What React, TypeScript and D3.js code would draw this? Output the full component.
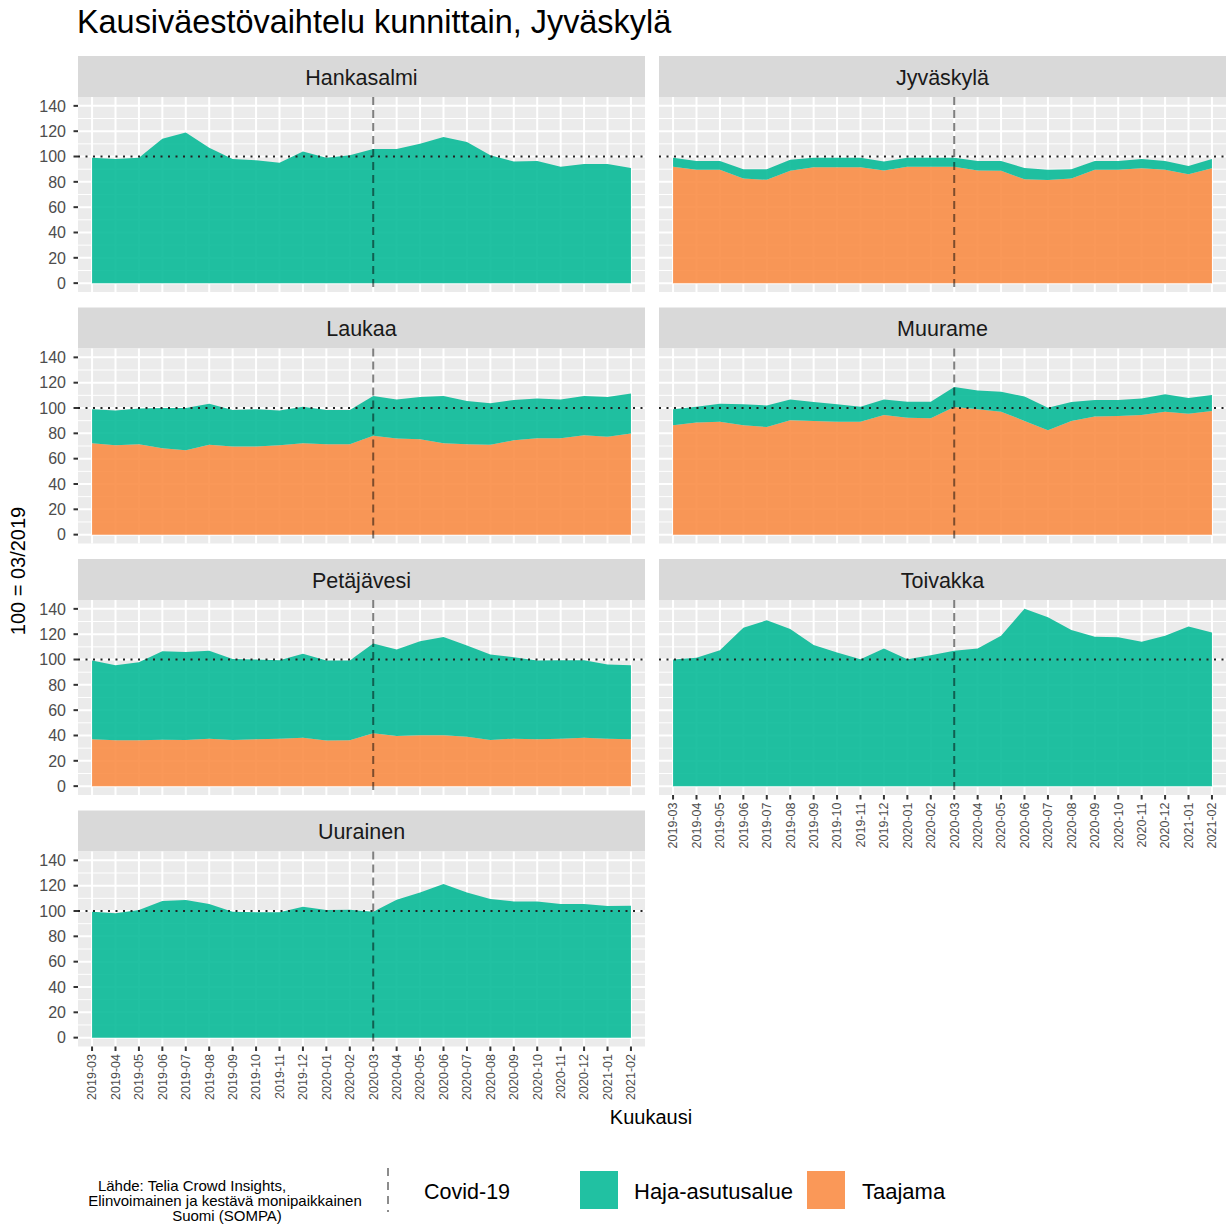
import React from "react";
import * as d3 from "d3";

const months = [
  "2019-03","2019-04","2019-05","2019-06","2019-07","2019-08","2019-09","2019-10","2019-11","2019-12",
  "2020-01","2020-02","2020-03","2020-04","2020-05","2020-06","2020-07","2020-08","2020-09","2020-10",
  "2020-11","2020-12","2021-01","2021-02",
];
const covidMonth = "2020-03";
const referenceLevel = 100;
const yTicks = [0, 20, 40, 60, 80, 100, 120, 140];
const yMinor = [10, 30, 50, 70, 90, 110, 130];
const seriesNames = ["Haja-asutusalue", "Taajama"];
const municipalities = ["Hankasalmi", "Jyväskylä", "Laukaa", "Muurame", "Petäjävesi", "Toivakka", "Uurainen"];

// Haja-asutusalue (rural) values
const hajaHankasalmi = [99,98,99,114,119,107,98,97,95,104,99,101,106,106,110,115.5,111.5,101,96,96.5,92,94,94,91];
const hajaJyvaskyla = [7,7,7,7.3,8.4,8.7,7.4,7.4,7.4,7,7,7,7,7.5,7.8,9,8.1,7.3,7,7,7.2,7,6.6,7.2];
const hajaLaukaa = [26.8,27.4,28.3,31.8,33.3,32.5,28.8,29.4,27.4,28.8,27,27,31.4,30.9,33.4,37.2,34.1,32.8,31.8,31.5,30.7,30.9,31.3,31.7];
const hajaMuurame = [12.6,12.5,14.2,16.5,17,16.5,14.9,13.7,11.8,12.3,12.6,13.1,15.7,14.9,15.8,19.2,17.9,14.9,13.1,12.6,13.1,13.7,12.5,12.6];
const hajaPetajavesi = [62.2,59.3,61.7,69.9,69.5,69.5,64,63,62,66.2,63.2,63,70.9,68.3,74.2,77.6,71.9,67.5,64.3,62.2,62,61.2,58.5,58.5];
const hajaToivakka = [100,101.3,107.4,125,131,124,111.4,105.6,100.3,108.7,100.3,103.4,106.9,108.7,118.8,140,133.3,123.3,118,117.5,114,118.8,126,121.4];
const hajaUurainen = [99.5,98.2,100.8,108,108.7,105.5,99.5,99,99,103.4,100.8,101,99.5,108.9,114.7,121.3,114.7,109.4,107.6,107.6,105.5,105.5,104,104.2];

// Taajama (urban) values
const taajamaJyvaskyla = [92,89.5,89.5,82.7,81.6,88.7,91.6,91.6,91.6,89,92,92,92,89,88.7,82,81.4,82.7,89.5,89.5,90.8,89.5,86,90.8];
const taajamaLaukaa = [72.2,70.6,71.4,68.2,66.7,70.9,69.6,69.6,70.6,72.2,71.4,71.4,78,75.9,75.3,72.2,71.4,70.9,74.5,76.1,76.1,78.5,77.4,79.8];
const taajamaMuurame = [86.4,88.5,89.2,86.4,85,90.3,89.8,89.2,89.2,94.5,92.4,91.9,100.8,99,97.1,89.8,82.4,89.8,93.2,93.7,94.5,97.1,95.5,97.6];
const taajamaPetajavesi = [37,36.2,36.2,36.7,36.5,37.5,36.5,37,37.5,38.3,36,36.2,41.7,39.6,40.2,40.2,39.1,36.5,37.5,37,37.5,38.3,37.5,37];

const hajaByMunicipality: Record<string, number[]> = {
  "Hankasalmi": hajaHankasalmi,
  "Jyväskylä": hajaJyvaskyla,
  "Laukaa": hajaLaukaa,
  "Muurame": hajaMuurame,
  "Petäjävesi": hajaPetajavesi,
  "Toivakka": hajaToivakka,
  "Uurainen": hajaUurainen,
};
const taajamaByMunicipality: Record<string, number[] | null> = {
  "Hankasalmi": null,
  "Jyväskylä": taajamaJyvaskyla,
  "Laukaa": taajamaLaukaa,
  "Muurame": taajamaMuurame,
  "Petäjävesi": taajamaPetajavesi,
  "Toivakka": null,
  "Uurainen": null,
};

const FONT = "'Liberation Sans', Arial, Helvetica, sans-serif";
const TEAL = "#00B894";
const ORANGE = "#F9893F";
const FILL_OPACITY = 0.87;

const W = 1232;
const H = 1227;
const colX = [78, 659];
const panelW = 567;
const stripTop0 = 56;
const rowStep = 251.5;
const stripH = 41;
const panelH = 195;

function Panel({ name, index }: { name: string; index: number }) {
  const col = index % 2;
  const row = Math.floor(index / 2);
  const x0 = colX[col];
  const sTop = stripTop0 + row * rowStep;
  const pTop = sTop + stripH;
  const pBot = pTop + panelH;

  const x = d3.scalePoint<string>().domain(months).range([x0, x0 + panelW]).padding(0.6);
  const y = d3.scaleLinear().domain([-7, 147]).range([pBot, pTop]);

  const haja = hajaByMunicipality[name];
  const taaj = taajamaByMunicipality[name];
  const rows = months.map((m, i) => ({
    month: m,
    Taajama: taaj ? taaj[i] : 0,
    "Haja-asutusalue": haja[i],
  }));
  const stack = d3.stack<any>().keys(["Taajama", "Haja-asutusalue"]);
  const layers = stack(rows);
  const area = d3
    .area<any>()
    .x((d: any) => x(d.data.month) as number)
    .y0((d: any) => y(d[0]))
    .y1((d: any) => y(d[1]));

  const showY = col === 0;
  const showX = index === 5 || index === 6;

  return (
    <g>
      <rect x={x0} y={sTop} width={panelW} height={stripH} fill="#D9D9D9" />
      <text x={x0 + panelW / 2} y={sTop + 28.5} textAnchor="middle" fontSize={21.5} fill="#1A1A1A" fontFamily={FONT}>
        {name}
      </text>
      <rect x={x0} y={pTop} width={panelW} height={panelH} fill="#EBEBEB" />
      {yMinor.map((v) => (
        <line key={"mi" + v} x1={x0} x2={x0 + panelW} y1={y(v)} y2={y(v)} stroke="#FFFFFF" strokeWidth={1} />
      ))}
      {yTicks.map((v) => (
        <line key={"ma" + v} x1={x0} x2={x0 + panelW} y1={y(v)} y2={y(v)} stroke="#FFFFFF" strokeWidth={2} />
      ))}
      {months.map((m) => (
        <line key={"vx" + m} x1={x(m)} x2={x(m)} y1={pTop} y2={pBot} stroke="#FFFFFF" strokeWidth={2} />
      ))}
      {layers.map((layer) =>
        taaj === null && layer.key === "Taajama" ? null : (
          <path
            key={layer.key}
            d={area(layer as any) || ""}
            fill={layer.key === "Taajama" ? ORANGE : TEAL}
            fillOpacity={FILL_OPACITY}
          />
        )
      )}
      <line
        x1={x0}
        x2={x0 + panelW}
        y1={y(referenceLevel)}
        y2={y(referenceLevel)}
        stroke="#222"
        strokeWidth={2}
        strokeDasharray="2 5.5"
      />
      <line
        x1={x(covidMonth)}
        x2={x(covidMonth)}
        y1={pTop}
        y2={pBot}
        stroke="#000"
        strokeOpacity={0.5}
        strokeWidth={2}
        strokeDasharray="8 5"
      />
      {showY &&
        yTicks.map((v) => (
          <g key={"yt" + v}>
            <line x1={x0 - 4.5} x2={x0} y1={y(v)} y2={y(v)} stroke="#333" strokeWidth={2} />
            <text x={x0 - 12} y={y(v) + 5.7} textAnchor="end" fontSize={16} fill="#4D4D4D" fontFamily={FONT}>
              {v}
            </text>
          </g>
        ))}
      {showX &&
        months.map((m) => (
          <g key={"xt" + m}>
            <line x1={x(m)} x2={x(m)} y1={pBot} y2={pBot + 4.5} stroke="#333" strokeWidth={2} />
            <text
              transform={`translate(${(x(m) as number) + 4.4},${pBot + 7.5}) rotate(-90)`}
              textAnchor="end"
              fontSize={12.5}
              fill="#4D4D4D"
              fontFamily={FONT}
            >
              {m}
            </text>
          </g>
        ))}
    </g>
  );
}

export default function App() {
  return (
    <svg
      width={W}
      height={H}
      viewBox={`0 0 ${W} ${H}`}
      style={{ position: "absolute", left: 0, top: 0, background: "#FFFFFF" }}
    >
      <rect x={0} y={0} width={W} height={H} fill="#FFFFFF" />
      <text x={77} y={33} fontSize={32.4} fill="#000" fontFamily={FONT}>
        Kausiväestövaihtelu kunnittain, Jyväskylä
      </text>
      {municipalities.map((m, i) => (
        <Panel key={m} name={m} index={i} />
      ))}
      <text transform={`translate(25,571) rotate(-90)`} textAnchor="middle" fontSize={20} fill="#000" fontFamily={FONT}>
        100 = 03/2019
      </text>
      <text x={651} y={1124} textAnchor="middle" fontSize={20} fill="#000" fontFamily={FONT}>
        Kuukausi
      </text>
      {/* caption / source */}
      <text fontSize={15} fill="#000" fontFamily={FONT} textAnchor="middle">
        <tspan x={192} y={1191}>Lähde: Telia Crowd Insights,</tspan>
        <tspan x={225} y={1206}>Elinvoimainen ja kestävä monipaikkainen</tspan>
        <tspan x={227} y={1221}>Suomi (SOMPA)</tspan>
      </text>
      {/* legend */}
      <line x1={388} x2={388} y1={1168} y2={1212} stroke="#000" strokeOpacity={0.45} strokeWidth={2} strokeDasharray="8 6" />
      <text x={424} y={1199} fontSize={21.5} fill="#000" fontFamily={FONT}>
        Covid-19
      </text>
      <rect x={580} y={1171} width={38} height={38} fill={TEAL} fillOpacity={FILL_OPACITY} />
      <text x={634} y={1199} fontSize={22} fill="#000" fontFamily={FONT}>
        {seriesNames[0]}
      </text>
      <rect x={807} y={1171} width={38} height={38} fill={ORANGE} fillOpacity={FILL_OPACITY} />
      <text x={862} y={1199} fontSize={22} fill="#000" fontFamily={FONT}>
        {seriesNames[1]}
      </text>
    </svg>
  );
}
